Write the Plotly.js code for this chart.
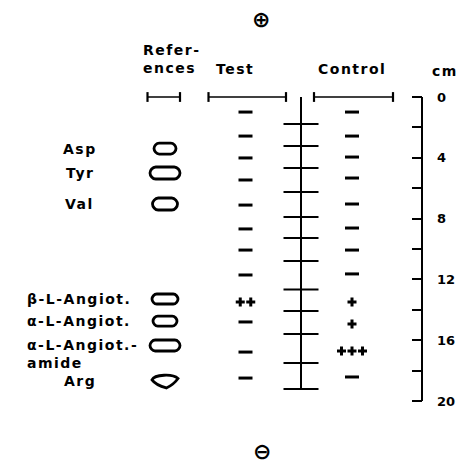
<!DOCTYPE html>
<html><head><meta charset="utf-8">
<script src="https://cdn.plot.ly/plotly-3.0.1.min.js"></script>
<style>
html,body{margin:0;padding:0;background:#fff}
#chart{width:462px;height:463px}
.annotation-text{letter-spacing:1.5px}
</style>
</head><body><div id="chart"></div>
<script>
// ---- data (migration distances in cm) ----
const refNames = ['Asp', 'Tyr', 'Val', 'β-L-Angiot.', 'α-L-Angiot.', 'α-L-Angiot.-<br>amide', 'Arg'];
const refPos = [3.39, 5.00, 7.04, 13.29, 14.74, 16.35, 18.68];
const refSpotW = [22, 30, 25, 26, 24, 30, 26];
const refSpotH = [11, 12, 12, 10, 10, 11, 14];
const refSpotShape = ['oval', 'oval', 'oval', 'oval', 'oval', 'oval', 'drop'];

const fractionBounds = [1.78, 3.22, 4.67, 6.25, 7.89, 9.28, 10.79, 12.66, 14.08, 15.59, 17.50, 19.21];
const ladderEnd = 19.21;

const testPos = [0.99, 2.57, 4.01, 5.46, 7.11, 8.68, 10.07, 11.71, 13.49, 14.80, 16.78, 18.49];
const testMarks = ['-', '-', '-', '-', '-', '-', '-', '-', '++', '-', '-', '-'];
const controlPos = [0.99, 2.57, 3.95, 5.33, 7.04, 8.62, 10.07, 11.64, 13.49, 14.93, 16.71, 18.42];
const controlMarks = ['-', '-', '-', '-', '-', '-', '-', '-', '+', '+', '+++', '-'];

const scaleTicks = [0, 2, 4, 6, 8, 10, 12, 14, 16, 18, 20];
const scaleLabels = ['0', '', '4', '', '8', '', '12', '', '16', '', '20'];
const scaleMax = 20;
const headRefs = 'Refer-<br>ences';
const headTest = 'Test';
const headControl = 'Control';
const headUnit = 'cm';

// ---- layout constants ----
const W = 462, H = 463;
const TOP = 97, PXCM = 15.2;
const yRange = [(H - TOP) / PXCM, -TOP / PXCM];
const cm = px => (px - TOP) / PXCM;
const REF_X = 165, TEST_X = 245.5, CTRL_X = 352, LADDER_X = 301, RULER_X = 422;
const FONT = {family: 'DejaVu Sans', size: 14, color: '#000', weight: 'bold'};

function markData(pos, marks, cx) {
  const d = {dx: [], dy: [], px: [], py: []};
  pos.forEach((p, i) => {
    const m = marks[i];
    if (m === '-') { d.dx.push(cx); d.dy.push(p); }
    else {
      const n = m.length;
      for (let j = 0; j < n; j++) { d.px.push(cx + (j - (n - 1) / 2) * 10.5); d.py.push(p); }
    }
  });
  return d;
}
const tm = markData(testPos, testMarks, TEST_X);
const cmk = markData(controlPos, controlMarks, CTRL_X);

const bars = [[147.5, 180], [208.5, 286], [314, 393]];
const barX = [], barY = [], capX = [], capY = [];
bars.forEach(b => { barX.push(b[0], b[1], null); barY.push(0, 0, null); capX.push(b[0], b[1]); capY.push(0, 0); });

const traces = [
  {x: barX, y: barY, mode: 'lines', line: {color: '#000', width: 1.6}, hoverinfo: 'skip'},
  {x: capX, y: capY, mode: 'markers', marker: {symbol: 'line-ns', size: 7, line: {color: '#000', width: 2.2}}, hoverinfo: 'skip'},
  {x: [LADDER_X, LADDER_X], y: [0, ladderEnd], mode: 'lines', line: {color: '#000', width: 2}, hoverinfo: 'skip'},
  {x: fractionBounds.map(() => LADDER_X), y: fractionBounds, mode: 'markers',
   marker: {symbol: 'line-ew', size: 25, line: {color: '#000', width: 2}}, hoverinfo: 'skip'},
  {x: tm.dx.concat(cmk.dx), y: tm.dy.concat(cmk.dy), mode: 'markers',
   marker: {symbol: 'line-ew', size: 10, line: {color: '#000', width: 3}}, hoverinfo: 'skip'},
  {x: tm.px.concat(cmk.px), y: tm.py.concat(cmk.py), mode: 'markers',
   marker: {symbol: 'cross', size: 7.5, color: '#000', line: {width: 0}}, hoverinfo: 'skip'},
  {x: [RULER_X, RULER_X], y: [0, scaleMax], mode: 'lines', line: {color: '#000', width: 2}, yaxis: 'y2', hoverinfo: 'skip'}
];

function stadium(w, h) {
  const a = w / 2, b = h / 2, r = b * 0.95, k = 0.55 * r;
  return `M ${-a + r},${b} L ${a - r},${b} C ${a - r + k},${b} ${a},${r - k} ${a},0 ` +
         `C ${a},${-r + k} ${a - r + k},${-b} ${a - r},${-b} L ${-a + r},${-b} ` +
         `C ${-a + r - k},${-b} ${-a},${-r + k} ${-a},0 C ${-a},${r - k} ${-a + r - k},${b} ${-a + r},${b} Z`;
}
function drop(w, h) {
  const a = w / 2, b = h / 2;
  return `M ${-a},${b*0.15} C ${-a*0.8},${b*0.95} ${a*0.6},${b*1.05} ${a},${b*0.35} ` +
         `C ${a*0.75},${-b*0.3} ${a*0.35},${-b*0.8} ${a*0.1},${-b} ` +
         `C ${-a*0.3},${-b*0.8} ${-a*0.8},${-b*0.35} ${-a},${b*0.15} Z`;
}
const shapes = refPos.map((p, i) => ({
  type: 'path', xref: 'x', yref: 'y', xsizemode: 'pixel', ysizemode: 'pixel', xanchor: REF_X, yanchor: p,
  path: refSpotShape[i] === 'oval' ? stadium(refSpotW[i], refSpotH[i]) : drop(refSpotW[i], refSpotH[i]),
  line: {color: '#000', width: 2.8}, fillcolor: 'rgba(0,0,0,0)'
}));

const annotations = [];
refNames.forEach((name, i) => {
  const multi = name.indexOf('<br>') >= 0;
  const long = name.length > 5;
  annotations.push({x: long ? 25 : 79.5, y: refPos[i], xref: 'x', yref: 'y', text: name, showarrow: false,
    align: 'left', xanchor: long ? 'left' : 'center', yanchor: 'middle', yshift: multi ? -8 : 0, font: FONT});
});
const SYM = {family: 'DejaVu Sans', size: 22, color: '#000', weight: 'bold'};
annotations.push(
  {x: 141, y: cm(59), text: headRefs, align: 'left', xanchor: 'left', yanchor: 'middle', showarrow: false, font: FONT},
  {x: 235, y: cm(69), text: headTest, xanchor: 'center', yanchor: 'middle', showarrow: false, font: FONT},
  {x: 352, y: cm(69), text: headControl, xanchor: 'center', yanchor: 'middle', showarrow: false, font: FONT},
  {x: 445, y: cm(71), text: headUnit, xanchor: 'center', yanchor: 'middle', showarrow: false, font: FONT},
  {x: 262, y: cm(19), text: '⊕', xanchor: 'center', yanchor: 'middle', showarrow: false, font: SYM},
  {x: 263, y: cm(451), text: '⊖', xanchor: 'center', yanchor: 'middle', showarrow: false, font: SYM}
);
annotations.forEach(a => { if (!a.xref) { a.xref = 'x'; a.yref = 'y'; } });

const layout = {
  width: W, height: H, margin: {l: 0, r: 0, t: 0, b: 0, pad: 0},
  paper_bgcolor: '#fff', plot_bgcolor: '#fff', showlegend: false,
  xaxis: {range: [0, W], visible: false, fixedrange: true},
  yaxis: {range: yRange, visible: false, fixedrange: true},
  yaxis2: {overlaying: 'y', anchor: 'free', position: RULER_X / W, side: 'right', range: yRange,
    ticks: 'inside', ticklen: 10, tickwidth: 2, tickcolor: '#000',
    tickmode: 'array', tickvals: scaleTicks, ticktext: scaleLabels, ticklabelstandoff: 14,
    showline: false, showgrid: false, zeroline: false, fixedrange: true,
    tickfont: {family: 'DejaVu Sans', size: 13, color: '#000', weight: 'bold'}},
  shapes: shapes, annotations: annotations
};
Plotly.newPlot('chart', traces, layout, {staticPlot: true, displayModeBar: false});
</script>
</body></html>
